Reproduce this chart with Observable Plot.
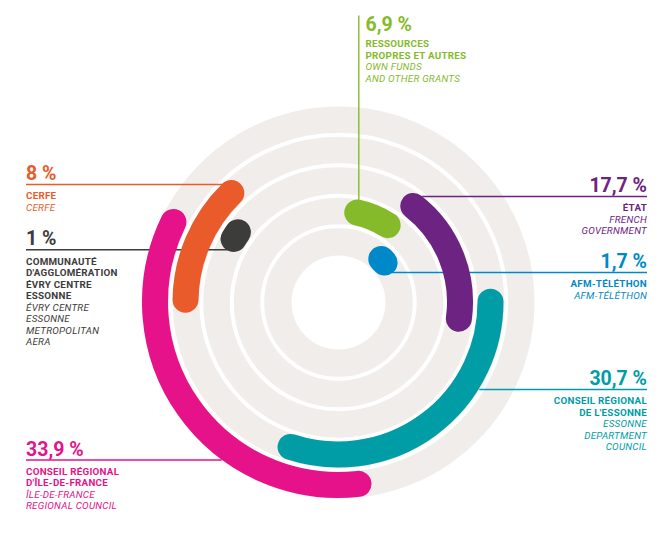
<!DOCTYPE html>
<html>
<head>
<meta charset="utf-8">
<script src="https://cdn.jsdelivr.net/npm/d3@7"></script>
<script src="https://cdn.jsdelivr.net/npm/@observablehq/plot@0.6"></script>
<style>
  html, body { margin: 0; padding: 0; background: #fff; }
  #chart svg { display: block; }
</style>
</head>
<body>
<div id="chart"></div>
<script>
// ---------- DATA ----------
const categories = ["ressources", "etat", "afm", "essonne", "idf", "evry", "cerfe"];
const shares = [6.9, 17.7, 1.7, 30.7, 33.9, 1, 8];
const percentLabels = ["6,9 %", "17,7 %", "1,7 %", "30,7 %", "33,9 %", "1 %", "8 %"];
// ring (1 = innermost) on which each bar sits
const rings = [2, 3, 1, 4, 5, 3, 4];
// bar extent in degrees, clockwise from 12 o'clock (as drawn in the source)
const arcStart = [4, 32, 33, 85, 169.5, 295, 266];
const arcEnd = [41, 104, 62, 203, 300, 311, 320.5];
const namesFr = [
  "RESSOURCES\nPROPRES ET AUTRES",
  "ÉTAT",
  "AFM-TÉLÉTHON",
  "CONSEIL RÉGIONAL\nDE L'ESSONNE",
  "CONSEIL RÉGIONAL\nD'ÎLE-DE-FRANCE",
  "COMMUNAUTÉ\nD'AGGLOMÉRATION\nÉVRY CENTRE\nESSONNE",
  "CERFE"
];
const namesEn = [
  "OWN FUNDS\nAND OTHER GRANTS",
  "FRENCH\nGOVERNMENT",
  "AFM-TÉLÉTHON",
  "ESSONNE\nDEPARTMENT\nCOUNCIL",
  "ÎLE-DE-FRANCE\nREGIONAL COUNCIL",
  "ÉVRY CENTRE\nESSONNE\nMETROPOLITAN\nAERA",
  "CERFE"
];

// ---------- STYLE / LAYOUT ----------
const palette = ["#85bb2a", "#6d2381", "#0089c9", "#009da6", "#e5128a", "#3c3c3b", "#ea5b2b"];
const W = 670, H = 552;
const cx = 338, cy = 302;           // centre of the rings
const innerR = 47, trackStep = 30.5, firstTrack = 61, barWidth = 26, outerR = 196;
const trackGray = "#f0edeb";
const ringRadius = k => firstTrack + (k - 1) * trackStep;
const separators = [1, 2, 3, 4].map(k => ringRadius(k) + trackStep / 2);

// label layout: side, leader y, where the leader meets the bar
const side = ["top", "right", "right", "right", "left", "left", "left"];
const leaderY = [null, 196, 272, 389, 459.5, 249.3, 184];
const leaderEdge = ["outer", "outer", "center", "outer", "outer", "center", "outer"];
const leftX = 25.5, rightX = 646.5, topLineX = 358.3, topLineTop = 15, topTextX = 365, topPctBase = 30;
const lineH = 11.5;
const nameSize = 9.8, pctSize = 19.5, nameTracking = 0.25;

const rad = d => d * Math.PI / 180;

// leader geometry derived from the ring geometry
const leaders = [];
categories.forEach((c, i) => {
  const rc = ringRadius(rings[i]);
  const r = leaderEdge[i] === "outer" ? rc + barWidth / 2 : rc;
  if (side[i] === "top") {
    const dx = topLineX - cx;
    leaders.push({cat: c, x1: topLineX, y1: topLineTop, x2: topLineX, y2: cy - Math.sqrt(r * r - dx * dx)});
  } else {
    const dy = leaderY[i] - cy;
    const dx = Math.sqrt(r * r - dy * dy);
    const ax = side[i] === "right" ? cx + dx : cx - dx;
    leaders.push({cat: c, x1: side[i] === "right" ? ax : leftX, y1: leaderY[i], x2: side[i] === "right" ? rightX : ax, y2: leaderY[i]});
  }
});

// text blocks (one multi-line text per block; y = baseline of the block's last line)
const rows = [];
categories.forEach((c, i) => {
  let x, pctBase, firstBase;
  if (side[i] === "top") { x = topTextX; pctBase = topPctBase; firstBase = topPctBase + 16.5; }
  else { x = side[i] === "right" ? rightX : leftX; pctBase = leaderY[i] - 4.5; firstBase = leaderY[i] + 14.8; }
  rows.push({cat: c, side: side[i], kind: "pct", text: percentLabels[i], x, y: pctBase});
  const nFr = namesFr[i].split("\n").length;
  const nEn = namesEn[i].split("\n").length;
  rows.push({cat: c, side: side[i], kind: "fr", text: namesFr[i], x, y: firstBase + (nFr - 1) * lineH});
  const enFirst = firstBase + nFr * lineH;
  rows.push({cat: c, side: side[i], kind: "en", text: namesEn[i], x, y: enFirst + (nEn - 1) * lineH});
});

const font = "Roboto, 'DejaVu Sans', sans-serif";
const kindStyle = {
  pct: {fontSize: pctSize, fontWeight: 700},
  fr: {fontSize: nameSize, fontWeight: 700, lineHeight: lineH / nameSize},
  en: {fontSize: nameSize, fontWeight: 400, fontStyle: "italic", lineHeight: lineH / nameSize}
};
const textMarks = [];
for (const s of ["top", "left", "right"]) {
  for (const k of ["pct", "fr", "en"]) {
    const d = rows.filter(r => r.side === s && r.kind === k);
    if (!d.length) continue;
    textMarks.push(Plot.text(d, {
      x: "x", y: "y", text: "text", fill: "cat",
      textAnchor: s === "right" ? "end" : "start",
      lineAnchor: "bottom",
      fontFamily: font,
      ...kindStyle[k]
    }));
  }
}

// bars: stroked arcs with round caps, placed through the plot's scales
function bars(index, scales) {
  const X = scales.x, Y = scales.y, C = scales.color;
  const ox = X(cx), oy = Y(cy);
  const g = d3.create("svg:g");
  categories.forEach((c, i) => {
    const r = X(cx + ringRadius(rings[i])) - ox;
    const w = X(cx + barWidth) - ox;
    const cap = (w / 2) / r;
    const a0 = rad(arcStart[i]) + cap - Math.PI / 2;
    const a1 = rad(arcEnd[i]) - cap - Math.PI / 2;
    const p = d3.path();
    p.arc(ox, oy, r, a0, Math.max(a1, a0 + 0.0001));
    g.append("path")
      .attr("d", p.toString())
      .attr("fill", "none")
      .attr("stroke", C(c))
      .attr("stroke-width", w)
      .attr("stroke-linecap", "round");
  });
  return g.node();
}

const chart = Plot.plot({
  width: W, height: H,
  margin: 0,
  x: {domain: [0, W], range: [0, W], axis: null},
  y: {domain: [0, H], range: [0, H], axis: null},
  r: {type: "identity"},
  color: {domain: categories, range: palette},
  style: {background: "#fff", fontFamily: font},
  marks: [
    Plot.dot([0], {x: () => cx, y: () => cy, r: () => outerR, fill: trackGray, stroke: "none"}),
    Plot.dot(separators, {x: () => cx, y: () => cy, r: d => d, fill: "none", stroke: "#fff", strokeWidth: 4}),
    Plot.dot([0], {x: () => cx, y: () => cy, r: () => innerR, fill: "#fff", stroke: "none"}),
    Plot.link(leaders, {x1: "x1", y1: "y1", x2: "x2", y2: "y2", stroke: "cat", strokeWidth: 1.4}),
    bars,
    ...textMarks
  ]
});
// slight tracking on the small uppercase names (the source uses a DIN-like face)
d3.select(chart).selectAll(`g[font-size="${nameSize}"]`).attr("letter-spacing", nameTracking);
document.getElementById("chart").append(chart);
</script>
</body>
</html>
